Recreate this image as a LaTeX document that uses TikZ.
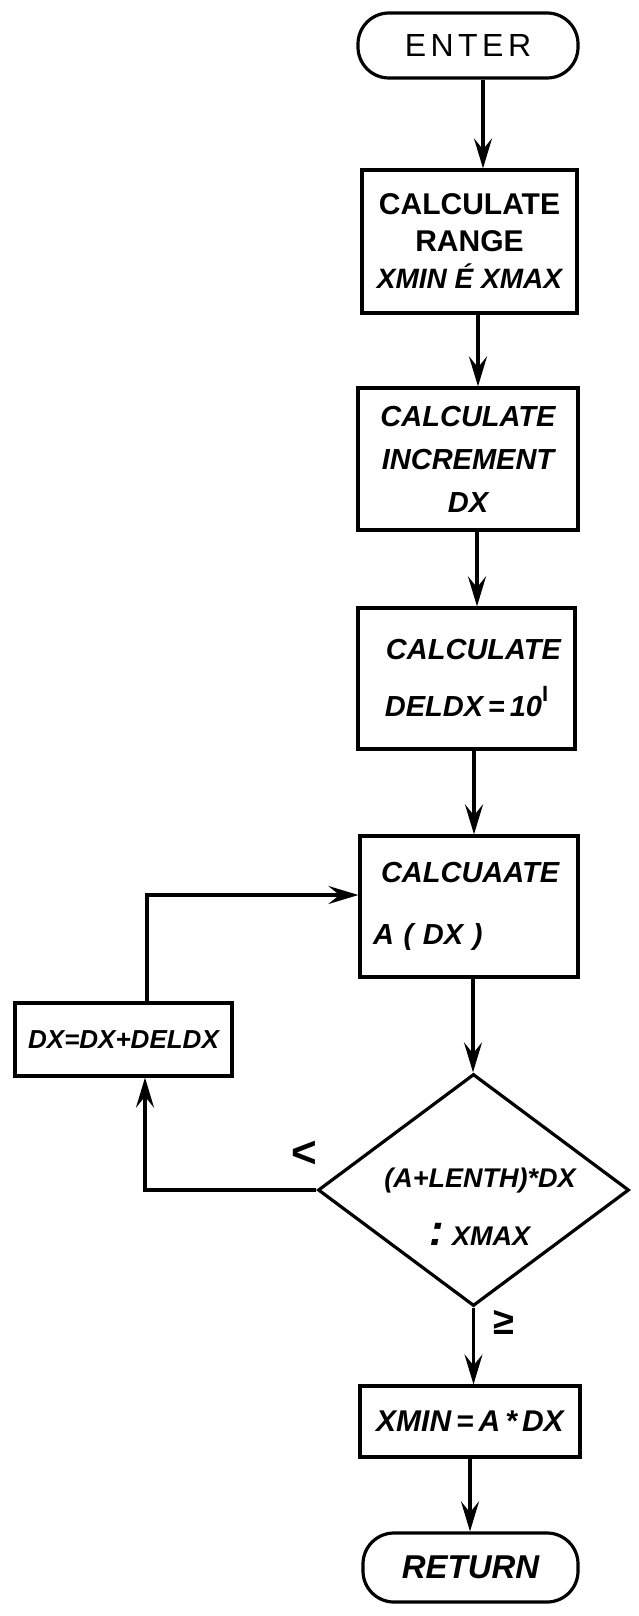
\documentclass[tikz,border=0pt]{standalone}
\usepackage{fontspec}
\setmainfont{Liberation Sans}
\usetikzlibrary{shapes.geometric,arrows.meta}
\begin{document}
\begin{tikzpicture}[x=1pt,y=-1pt,
  box/.style={draw, line width=3.2pt, align=center, inner sep=0pt},
  term/.style={box, rounded corners=31pt},
  flow/.style={line width=3.2pt, -{Stealth[length=30pt,width=18pt,inset=11pt]}},
  txt/.style={inner sep=0pt}
]
\useasboundingbox (0,0) rectangle (638,1616);

% nodes
\node[term, minimum width=220pt, minimum height=65pt,
      font=\fontsize{32}{36}\selectfont] (enter) at (468,45.5)
      {\addfontfeature{LetterSpace=14}ENTER};
\node[box, minimum width=215pt, minimum height=143pt,
      font=\bfseries\fontsize{30}{37}\selectfont] (box1) at (469.5,241.5)
      {CALCULATE\\RANGE\\{\itshape\fontsize{28}{37}\selectfont XMIN É XMAX}};
\node[box, minimum width=220pt, minimum height=142pt,
      font=\bfseries\itshape\fontsize{29}{43}\selectfont] (box2) at (468,459)
      {CALCULATE\\INCREMENT\\DX};
\node[box, minimum width=217pt, minimum height=141pt,
      font=\bfseries\itshape\fontsize{29}{57}\selectfont] (box3) at (466.5,678.5)
      {\hspace*{14pt}CALCULATE\\DELDX\,=\,10\raisebox{15pt}{\fontsize{22}{22}\selectfont\upshape I}};
\node[box, minimum width=218pt, minimum height=141pt, text width=192pt, align=left,
      font=\bfseries\itshape\fontsize{29}{62}\selectfont] (box4) at (469,906.5)
      {\hspace*{8pt}CALCUAATE\\A ( DX )};
\node[box, minimum width=217pt, minimum height=73pt,
      font=\bfseries\itshape\fontsize{26}{30}\selectfont] (dxbox) at (123.5,1039.5)
      {DX=DX+DELDX};
\node[draw, diamond, line width=3.2pt, inner sep=0pt, minimum width=311pt,
      minimum height=232pt] (dec) at (473.5,1190) {};
\node[txt, align=center, font=\bfseries\itshape\fontsize{27}{58}\selectfont] (dect) at (480,1207)
      {(A+LENTH)*DX\\{\fontsize{44}{44}\selectfont :}\ XMAX};
\node[box, minimum width=220pt, minimum height=71pt,
      font=\bfseries\itshape\fontsize{30}{34}\selectfont] (xmin) at (470,1421.5)
      {XMIN\,=\,A\,*\,DX};
\node[term, minimum width=215pt, minimum height=69pt,
      font=\bfseries\itshape\fontsize{33}{38}\selectfont] (ret) at (470.5,1567.5)
      {RETURN};

% labels
\node[txt, font=\bfseries\fontsize{44}{44}\selectfont] (lt) at (304,1154) {<};
\node[txt, font=\bfseries\fontsize{38}{38}\selectfont] (ge) at (504,1322) {≥};

% connectors
\draw[flow] ([xshift=15pt]enter.south) -- ([xshift=15pt]enter.south |- box1.north);
\draw[flow] ([xshift=8.5pt]box1.south) -- ([xshift=8.5pt]box1.south |- box2.north);
\draw[flow] ([xshift=9pt]box2.south) -- ([xshift=9pt]box2.south |- box3.north);
\draw[flow] ([xshift=7.5pt]box3.south) -- ([xshift=7.5pt]box3.south |- box4.north);
\draw[flow] ([xshift=4pt]box4.south) -- ([xshift=4pt]box4.south |- dec.north);
\draw[flow] (dec.south) -- (dec.south |- xmin.north);
\draw[flow] (xmin.south) -- (xmin.south |- ret.north);
\draw[flow] (dec.west) -| ([xshift=21.5pt]dxbox.south);
\draw[flow] ([xshift=23.5pt]dxbox.north) |- ([yshift=11.5pt]box4.west);
\end{tikzpicture}
\end{document}
